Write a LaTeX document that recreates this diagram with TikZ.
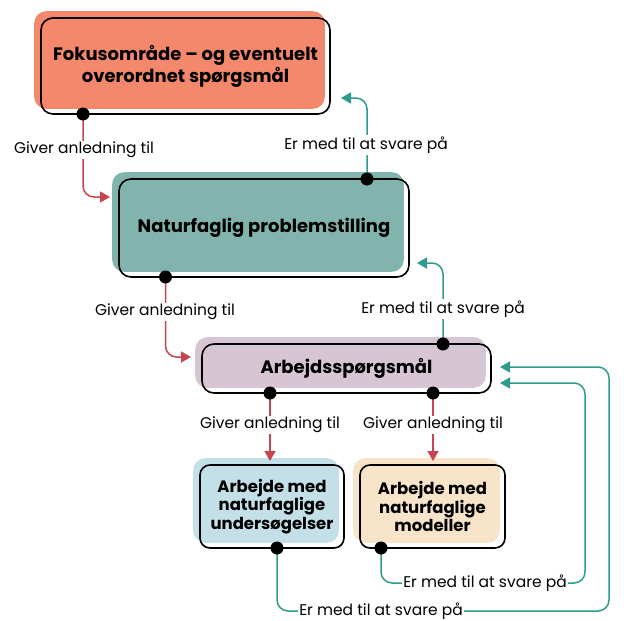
\documentclass[tikz,border=0pt]{standalone}
\usepackage{fontspec}
\setmainfont{Poppins}
\usetikzlibrary{arrows.meta,backgrounds,calc}
\definecolor{salmonc}{HTML}{F3886C}
\definecolor{tealbox}{HTML}{82B4AE}
\definecolor{purplebox}{HTML}{D6C6D4}
\definecolor{bluebox}{HTML}{C3DFE7}
\definecolor{beigebox}{HTML}{F7E4C9}
\definecolor{redc}{HTML}{C8444E}
\definecolor{tealc}{HTML}{2F9B8B}
\begin{document}
\begin{tikzpicture}[x=1pt,y=-1pt,
  box/.style={draw=black,line width=1.6pt,rounded corners=12pt,align=center,inner sep=0pt,
    font=\bfseries\fontsize{18}{22}\selectfont},
  smallbox/.style={box,rounded corners=10pt,font=\bfseries\fontsize{16.5}{18.5}\selectfont},
  lbl/.style={fill=white,inner sep=1.5pt,font=\fontsize{15.5}{18}\selectfont},
  dot/.style={circle,fill=black,inner sep=0pt,minimum size=13pt},
  redarr/.style={draw=redc,line width=1.5pt,rounded corners=11pt,-{Triangle[length=10pt,width=11pt]}},
  tealarr/.style={draw=tealc,line width=1.5pt,rounded corners=11pt,-{Triangle[length=10pt,width=11pt]}},
  bgfill/.style={rounded corners=12pt}
]
\useasboundingbox (0,0) rectangle (640,621);

% boxes
\node[box,minimum width=289pt,minimum height=96pt] (B1) at (185.5,66) {Fokusområde – og eventuelt\\overordnet spørgsmål};
\node[box,minimum width=290pt,minimum height=98pt] (B2) at (264,228) {Naturfaglig problemstilling};
\node[box,minimum width=289pt,minimum height=49pt] (B3) at (346.5,368.5) {Arbejdsspørgsmål};
\node[smallbox,minimum width=144pt,minimum height=83pt] (B4) at (272,506.5) {Arbejde med\\naturfaglige\\undersøgelser};
\node[smallbox,minimum width=145pt,minimum height=83pt] (B5) at (432.5,506.5) {Arbejde med\\naturfaglige\\modeller};

\begin{scope}[on background layer]
\fill[white] (0,0) rectangle (640,621);
\fill[salmonc,bgfill] ($(B1.south west)+(-6,-6)$) rectangle ($(B1.north east)+(-6,-6)$);
\fill[tealbox,bgfill] ($(B2.south west)+(-6,-6)$) rectangle ($(B2.north east)+(-6,-6)$);
\fill[purplebox,bgfill] ($(B3.south west)+(-6,-6)$) rectangle ($(B3.north east)+(-6,-6)$);
\fill[bluebox,bgfill] ($(B4.south west)+(-6,-6)$) rectangle ($(B4.north east)+(-6,-6)$);
\fill[beigebox,bgfill] ($(B5.south west)+(-6,-6)$) rectangle ($(B5.north east)+(-6,-6)$);
\end{scope}

% connection points
\coordinate (d1) at (83,114);
\coordinate (d2t) at (367,179);
\coordinate (d2b) at (165.5,277);
\coordinate (d3t) at (443,344);
\coordinate (d3bl) at (270,393);
\coordinate (d3br) at (433,393);
\coordinate (d4) at (277,548);
\coordinate (d5) at (381,548);
% arrow ends
\coordinate (e1) at (110,197);
\coordinate (e2) at (341,98);
\coordinate (e3) at (191,357);
\coordinate (e4) at (417,263);
\coordinate (e5) at (270,461);
\coordinate (e6) at (433,461);
\coordinate (e7) at (500,383);
\coordinate (e8) at (500,367);
\coordinate (c7) at (585,583);
\coordinate (c8) at (609,611);

% connectors
\draw[redarr] (d1) |- (e1);
\draw[tealarr] (d2t) |- (e2);
\draw[redarr] (d2b) |- (e3);
\draw[tealarr] (d3t) |- (e4);
\draw[redarr] (d3bl) -- (e5);
\draw[redarr] (d3br) -- (e6);
\draw[tealarr] (d5) |- (c7) |- (e7);
\draw[tealarr] (d4) |- (c8) |- (e8);

% labels
\node[lbl] (L1) at (84,150) {Giver anledning til};
\node[lbl] (L2) at (366,145) {Er med til at svare på};
\node[lbl] (L3) at (165,312) {Giver anledning til};
\node[lbl] (L4) at (443,309) {Er med til at svare på};
\node[lbl] (L5) at (270,425) {Giver anledning til};
\node[lbl] (L6) at (433,425) {Giver anledning til};
\node[lbl] (L7) at (485,583) {Er med til at svare på};
\node[lbl] (L8) at (381,611) {Er med til at svare på};

% dots
\foreach \d in {d1,d2t,d2b,d3t,d3bl,d3br,d4,d5}
  \node[dot] at (\d) {};
\end{tikzpicture}
\end{document}
